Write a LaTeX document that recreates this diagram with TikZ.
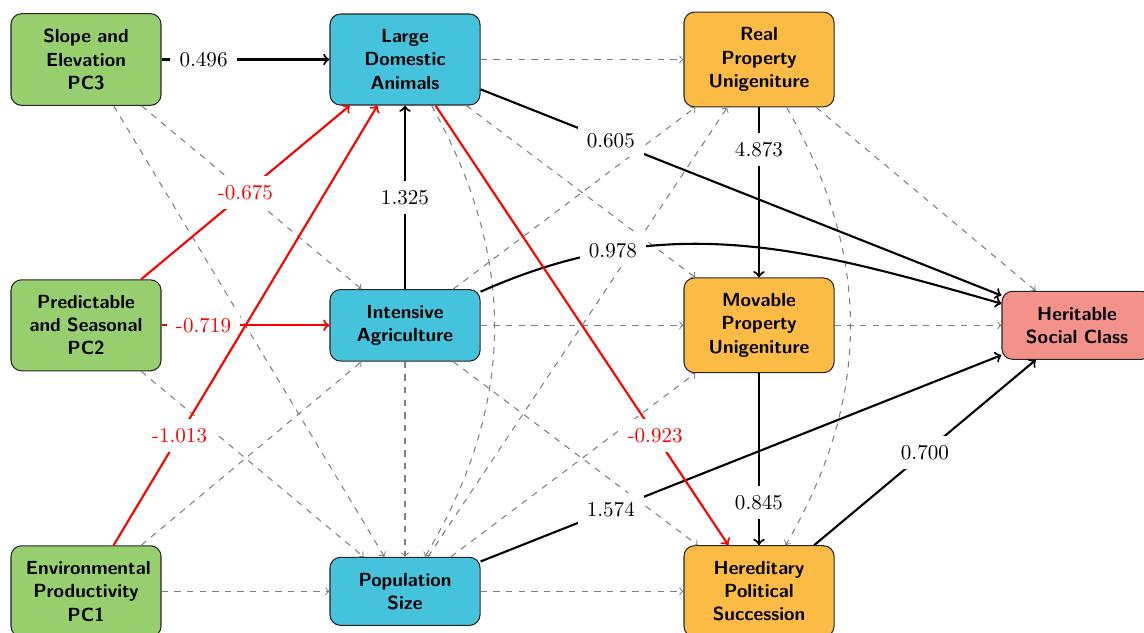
\documentclass[tikz,border=0pt]{standalone}
\usetikzlibrary{arrows}
\definecolor{envgreen}{RGB}{151,206,110}
\definecolor{midblue}{RGB}{70,195,220}
\definecolor{inhorange}{RGB}{252,187,68}
\definecolor{hscpink}{RGB}{243,146,138}
\begin{document}
\begin{tikzpicture}[x=0.0166667cm,y=-0.0166667cm,
  box/.style={draw=black!85, line width=0.5pt, rounded corners=5pt,
    minimum width=2.5cm, text width=2cm, align=center, inner ysep=7.4pt,
    font=\sffamily\bfseries\small},
  envbox/.style={box, fill=envgreen},
  midbox/.style={box, fill=midblue},
  inhbox/.style={box, fill=inhorange},
  hscbox/.style={box, fill=hscpink},
  nsedge/.style={->, draw=gray, dashed, line width=0.5pt},
  sigedge/.style={->, draw=black, line width=1pt},
  negedge/.style={->, draw=red, line width=1pt},
  coef/.style={fill=white, inner sep=4.3pt, font=\normalsize, text=black},
  negcoef/.style={coef, text=red}
]
\useasboundingbox (0,0) rectangle (1144,632);

% nodes
\node[envbox] (S3) at (86,59.5) {Slope and\\Elevation\\PC3};
\node[envbox] (P2) at (86,325.3) {Predictable\\and Seasonal\\PC2};
\node[envbox] (E1) at (86,591.3) {Environmental\\Productivity\\PC1};
\node[midbox] (LDA) at (405,59.5) {Large\\Domestic\\Animals};
\node[midbox] (IA) at (405,325.3) {Intensive\\Agriculture};
\node[midbox] (PS) at (405,591.3) {Population\\Size};
\node[inhbox] (RP) at (759,59.5) {Real\\Property\\Unigeniture};
\node[inhbox] (MP) at (759,325.3) {Movable\\Property\\Unigeniture};
\node[inhbox] (HP) at (759,591.3) {Hereditary\\Political\\Succession};
\node[hscbox] (HSC) at (1077,325.3) {Heritable\\Social Class};

% non-significant paths
\draw[nsedge] (S3) -- (IA);
\draw[nsedge] (S3) -- (PS);
\draw[nsedge] (P2) -- (PS);
\draw[nsedge] (E1) -- (IA);
\draw[nsedge] (E1) -- (PS);
\draw[nsedge] (IA) -- (PS);
\draw[nsedge] (LDA) to[bend left=30] (PS);
\draw[nsedge] (LDA) -- (RP);
\draw[nsedge] (LDA) -- (MP);
\draw[nsedge] (IA) -- (RP);
\draw[nsedge] (IA) -- (MP);
\draw[nsedge] (IA) -- (HP);
\draw[nsedge] (PS) -- (RP);
\draw[nsedge] (PS) -- (MP);
\draw[nsedge] (PS) -- (HP);
\draw[nsedge] (RP) to[bend left=30] (HP);
\draw[nsedge] (RP) -- (HSC);
\draw[nsedge] (MP) -- (HSC);

% significant paths
\draw[sigedge] (S3) -- node[coef, pos=.25] {0.496} (LDA);
\draw[sigedge] (IA) -- node[coef, pos=.5] {1.325} (LDA);
\draw[sigedge] (LDA) -- node[coef, pos=.25] {0.605} (HSC);
\draw[sigedge] (IA) to[out=24,in=164] node[coef, pos=.25] {0.978} (HSC);
\draw[sigedge] (RP) -- node[coef, pos=.25] {4.873} (MP);
\draw[sigedge] (MP) -- node[coef, pos=.75] {0.845} (HP);
\draw[sigedge] (PS) -- node[coef, pos=.25] {1.574} (HSC);
\draw[sigedge] (HP) -- node[coef, pos=.5] {0.700} (HSC);
\draw[negedge] (P2) -- node[negcoef, pos=.5] {-0.675} (LDA);
\draw[negedge] (P2) -- node[negcoef, pos=.25] {-0.719} (IA);
\draw[negedge] (E1) -- node[negcoef, pos=.25] {-1.013} (LDA);
\draw[negedge] (LDA) -- node[negcoef, pos=.75] {-0.923} (HP);
\end{tikzpicture}
\end{document}
